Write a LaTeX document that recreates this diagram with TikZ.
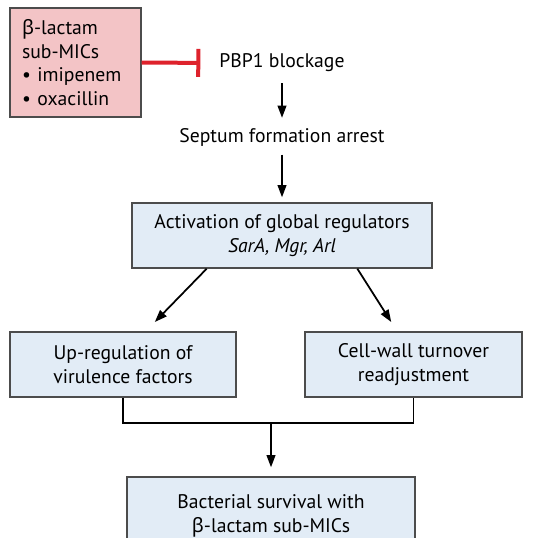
\documentclass[tikz,border=0pt]{standalone}
\usepackage{fontspec}
\setmainfont{PT Sans}
\newfontfamily\grk{Noto Sans}
\usetikzlibrary{arrows.meta,positioning,calc}
\definecolor{drugpink}{RGB}{243,196,198}
\definecolor{boxblue}{RGB}{226,236,246}
\definecolor{blockred}{RGB}{222,34,44}
\newcommand{\bet}{{\grk β}}

\begin{document}
\begin{tikzpicture}[x=0.02cm,y=-0.02cm,font=\fontsize{11.2}{13.4}\selectfont,
	box/.style={draw=black!70, line width=0.8pt, fill=boxblue, align=center, inner sep=0pt},
	arr/.style={line width=1pt, -{Triangle[length=7pt,width=5pt]}},
	inhib/.style={draw=blockred, line width=0.08cm, -{Bar[width=0.56cm]}}]
				\useasboundingbox (0,0) rectangle (546,537);
				
				\node[box, fill=drugpink, minimum width=2.62cm, minimum height=2.18cm, align=left, text width=2.14cm] (drug) at (75.5,62.5) {\bet-lactam\\sub-MICs\\\textbullet\ imipenem\\\textbullet\ oxacillin};
				\node (pbp) at (282,63) {PBP1 blockage};
				\node (sept) at (282,137) {Septum formation arrest};
				\node[box, minimum width=6cm, minimum height=1.3cm] (act) at (282,235.5) {Activation of global regulators\\\textit{SarA, Mgr, Arl}};
				\node[box, minimum width=4.52cm, minimum height=1.3cm] (up) at (123,364.5) {Up-regulation of\\virulence factors};
				\node[box, minimum width=4.34cm, minimum height=1.3cm] (wall) at (413.5,364.5) {Cell-wall turnover\\readjustment};
				\node[box, minimum width=5.76cm, minimum height=1.56cm] (surv) at (271,516) {Bacterial survival with\\\bet-lactam sub-MICs};
				\coordinate (merge) at (271,423);
				
				\draw [inhib, shorten >=0.26cm] (drug.east) to (pbp.west);
				\draw [arr, shorten <=0.1cm, shorten >=0.08cm] (pbp.south) to (sept.north);
				\draw [arr, shorten <=0.05cm, shorten >=0.1cm] (sept.south) to (act.north);
				\draw [arr, shorten >=0.26cm] ($(act.south)!0.5!(act.south west)$) to ($(up.north)!0.2!(up.north east)$);
				\draw [arr, shorten >=0.22cm] ($(act.south)!0.5!(act.south east)$) to ($(wall.north)!0.15!(wall.north west)$);
				\draw [line width=1pt] (up.south) |- (merge) -| (wall.south);
				\draw [arr, shorten >=0.18cm] (merge) to (surv.north);
				\end{tikzpicture}
\end{document}
